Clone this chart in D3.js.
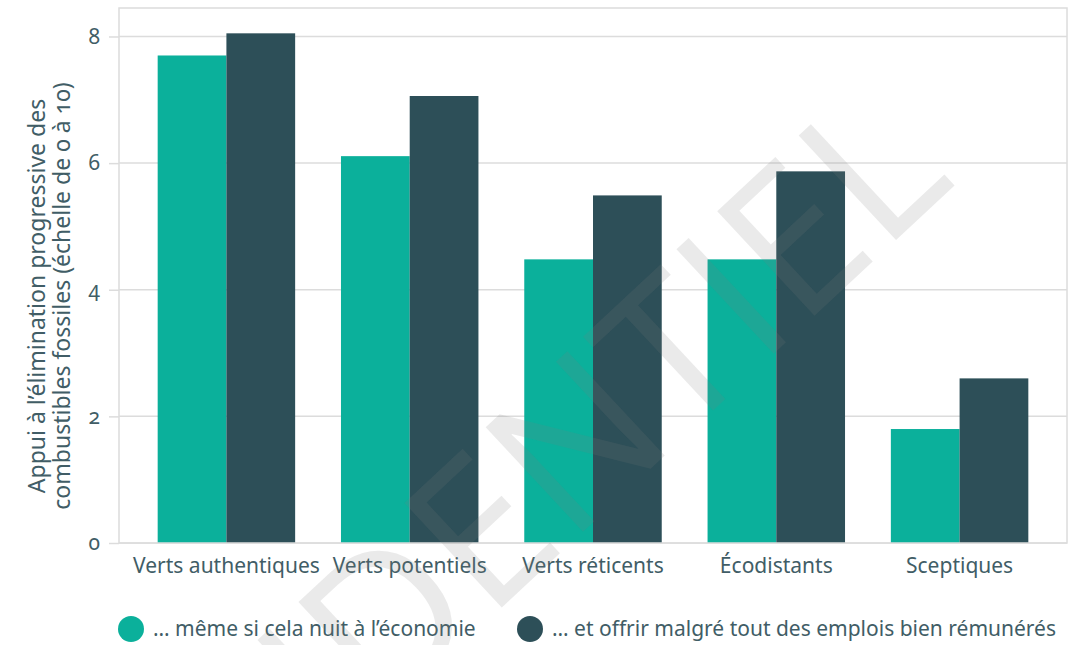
<!DOCTYPE html>
<html lang="fr">
<head>
<meta charset="utf-8">
<script src="https://cdn.jsdelivr.net/npm/d3@7"></script>
<style>
  html, body { margin: 0; padding: 0; background: #fff; }
  svg { display: block; }
  svg text { font-family: "Noto Sans", sans-serif; font-variant-numeric: oldstyle-nums; font-feature-settings: "onum" 1; }
</style>
</head>
<body>
<svg id="chart" width="1073" height="645"></svg>
<script>
// Groupes de répondants
const categories = ["Verts authentiques", "Verts potentiels", "Verts réticents", "Écodistants", "Sceptiques"];
// Appui moyen (0 à 10) selon la formulation de la question
const serieEconomie = [7.70, 6.11, 4.48, 4.48, 1.80];
const serieEmplois = [8.05, 7.06, 5.49, 5.87, 2.60];
const seriesNames = ["… même si cela nuit à l’économie", "… et offrir malgré tout des emplois bien rémunérés"];
const yTicks = [0, 2, 4, 6, 8];
const yTitle = ["Appui à l’élimination progressive des", "combustibles fossiles (échelle de 0 à 10)"];

const colors = ["#0bb09b", "#2d4f58"];
const textColor = "#415d66";
const gridColor = "#dcdcdc";
const labelSize = "21px";
const titleSize = "23px";

const svg = d3.select("#chart");
const plot = { left: 119, right: 1067, top: 8, bottom: 543 };

const x = d3.scaleBand().domain(categories).range([plot.left, plot.right])
  .paddingInner(0.25).paddingOuter(0.211);
const xs = d3.scaleBand().domain([0, 1]).range([0, x.bandwidth()]);
const y = d3.scaleLinear().domain([0, 8.45]).range([plot.bottom, plot.top]);

// Quadrillage horizontal
svg.append("g").selectAll("line").data(yTicks.filter(d => d > 0)).join("line")
  .attr("x1", plot.left).attr("x2", plot.right)
  .attr("y1", d => y(d)).attr("y2", d => y(d))
  .attr("stroke", gridColor).attr("stroke-width", 1.5);

// Cadre de la zone de tracé
svg.append("rect")
  .attr("x", plot.left).attr("y", plot.top)
  .attr("width", plot.right - plot.left).attr("height", plot.bottom - plot.top)
  .attr("fill", "none").attr("stroke", gridColor).attr("stroke-width", 1.5);

// Barres groupées
const data = categories.map((c, i) => ({ c, vals: [serieEconomie[i], serieEmplois[i]] }));
svg.append("g").selectAll("g").data(data).join("g")
  .attr("transform", d => `translate(${x(d.c)},0)`)
  .selectAll("rect").data(d => d.vals.map((v, k) => ({ v, k }))).join("rect")
  .attr("x", d => xs(d.k)).attr("width", xs.bandwidth())
  .attr("y", d => y(d.v)).attr("height", d => y(0) - y(d.v))
  .attr("fill", d => colors[d.k]);

// Axe horizontal à zéro
svg.append("line")
  .attr("x1", plot.left).attr("x2", plot.right)
  .attr("y1", y(0)).attr("y2", y(0))
  .attr("stroke", gridColor).attr("stroke-width", 1.5);

// Axe vertical
const yAxis = svg.append("g").attr("transform", `translate(${plot.left},0)`)
  .call(d3.axisLeft(y).tickValues(yTicks).tickSize(10).tickPadding(9).tickFormat(d3.format("d")))
  .attr("font-family", null).attr("font-size", null);
yAxis.select(".domain").remove();
yAxis.selectAll(".tick line").attr("stroke", gridColor).attr("stroke-width", 1.5);
yAxis.selectAll(".tick text").attr("fill", textColor).style("font-size", labelSize);

// Axe des catégories
const xAxis = svg.append("g").attr("transform", `translate(0,${plot.bottom})`)
  .call(d3.axisBottom(x).tickSize(0).tickPadding(15))
  .attr("font-family", null).attr("font-size", null);
xAxis.select(".domain").remove();
xAxis.selectAll(".tick text").attr("fill", textColor).style("font-size", labelSize);

// Titre de l'axe vertical
svg.append("text")
  .attr("transform", "translate(45,296) rotate(-90)")
  .attr("text-anchor", "middle").attr("fill", textColor).style("font-size", titleSize)
  .selectAll("tspan").data(yTitle).join("tspan")
  .attr("x", 0).attr("dy", (d, i) => i === 0 ? 0 : 25).text(d => d);

// Légende
const legendX = [131, 530];
const lg = svg.append("g").selectAll("g").data(seriesNames).join("g")
  .attr("transform", (d, i) => `translate(${legendX[i]},629)`);
lg.append("circle").attr("r", 13).attr("fill", (d, i) => colors[i]);
lg.append("text").attr("x", 22).attr("y", 7).attr("fill", textColor)
  .style("font-size", labelSize).text(d => d);

// Filigrane
svg.append("text")
  .attr("transform", "translate(958,182) rotate(-43)")
  .attr("text-anchor", "end")
  .attr("fill", "rgb(125,125,125)").attr("fill-opacity", 0.16)
  .style("font-family", "'Open Sans', sans-serif").style("font-weight", 400)
  .style("font-size", "200px")
  .text("CONFIDENTIEL");
</script>
</body>
</html>
